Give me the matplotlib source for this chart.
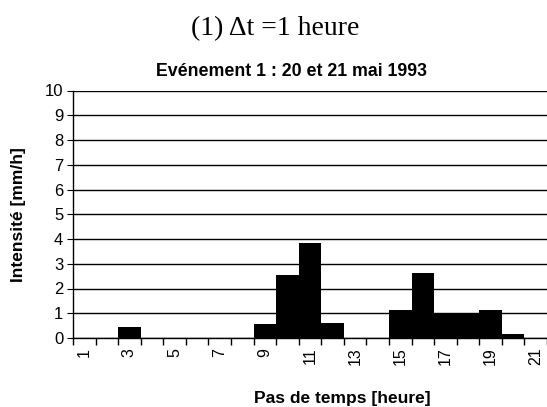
import matplotlib.pyplot as plt

# Pas de temps 1..21 et intensités
pas = list(range(1, 22))
intensite = [0, 0, 0.43, 0, 0, 0, 0, 0, 0.57, 2.56, 3.85, 0.62, 0, 0,
             1.14, 2.62, 1.01, 0.97, 1.14, 0.17, 0]
etiquettes = [str(p) if p % 2 == 1 else '' for p in pas]

plt.rcParams['font.family'] = ['Liberation Sans', 'DejaVu Sans']

W, H = 547, 407
fig = plt.figure(figsize=(W / 100, H / 100), dpi=100)
ax = fig.add_axes([73 / W, 69 / H, 474 / W, 247.5 / H])

ax.bar(pas, intensite, width=1.0, color='black', edgecolor='none', zorder=3)
ax.set_xlim(0.5, 21.5)
ax.set_ylim(0, 10)
ax.set_yticks(range(0, 11))
ax.yaxis.grid(True, color='black', linewidth=1, zorder=0)

# ticks entre les catégories, étiquettes au centre
ax.set_xticks([p + 0.5 for p in [0] + pas], minor=False)
ax.set_xticklabels([])
ax.set_xticks(pas, minor=True)
ax.set_xticklabels(etiquettes, minor=True, rotation=90, fontsize=11.5)
ax.tick_params(axis='x', which='minor', length=0, pad=7)
ax.tick_params(axis='x', which='major', length=5, direction='out', width=1)
ax.tick_params(axis='y', length=4, direction='out', labelsize=12, pad=3)

for s in ['top', 'right']:
    ax.spines[s].set_visible(False)
ax.spines['left'].set_linewidth(1)
ax.spines['bottom'].set_linewidth(1)

ax.set_ylabel('Intensité [mm/h]', fontsize=12.5, fontweight='bold')
ax.yaxis.label.set_verticalalignment('center')
ax.yaxis.set_label_coords((19 - 73) / 474, 0.5)
ax.set_xlabel('Pas de temps [heure]', fontsize=12.5, fontweight='bold')
ax.xaxis.label.set_verticalalignment('center')
ax.xaxis.set_label_coords((342 - 73) / 474, (338 - 398) / 247.5)

fig.text(291.5 / W, 1 - 72 / H, 'Evénement 1 : 20 et 21 mai 1993', ha='center',
         va='center', fontsize=12.8, fontweight='bold')

fig.text(275.5 / W, 1 - 29 / H, '(1) \u0394t =1 heure', ha='center', va='center',
         fontsize=20, family=['Liberation Serif', 'DejaVu Serif'])

fig.savefig('out.png', dpi=100)
